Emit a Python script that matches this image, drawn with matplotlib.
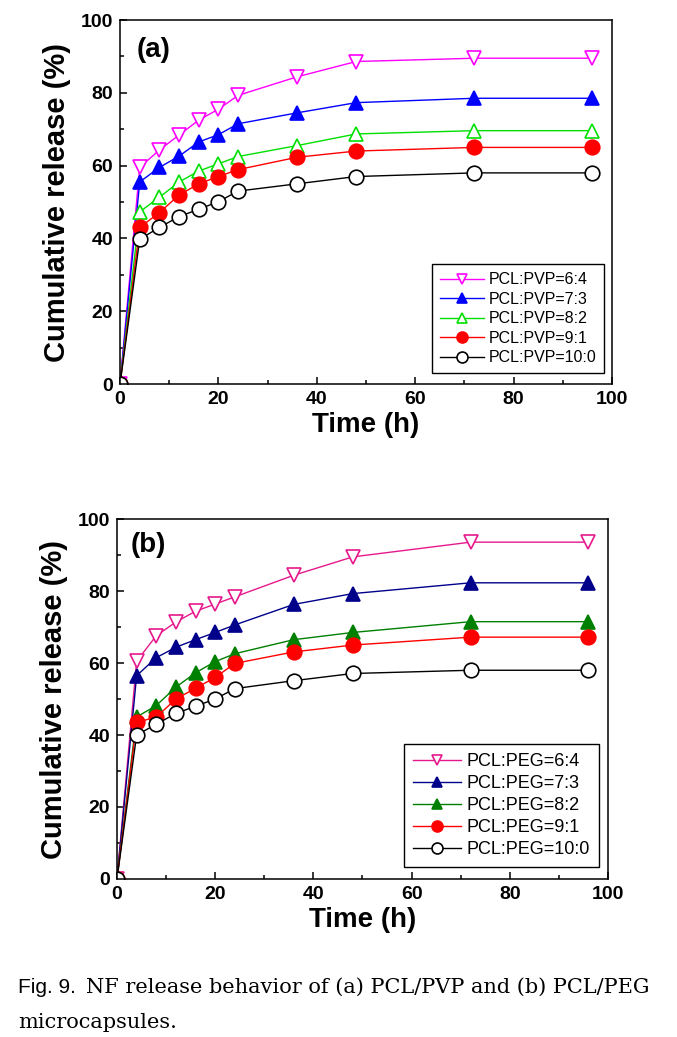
import matplotlib.pyplot as plt
from matplotlib.ticker import MultipleLocator

# sampling times (h)
time_h = [0, 4, 8, 12, 16, 20, 24, 36, 48, 72, 96]

# (a) PCL/PVP
pvp_64 = [0, 59.5, 64.3, 68.4, 72.5, 75.5, 79.3, 84.4, 88.6, 89.5, 89.5]
pvp_73 = [0, 55.5, 59.5, 62.6, 66.5, 68.5, 71.5, 74.5, 77.3, 78.5, 78.5]
pvp_82 = [0, 47.3, 51.3, 55.5, 58.5, 60.5, 62.5, 65.5, 68.7, 69.6, 69.6]
pvp_91 = [0, 43.0, 47.1, 51.9, 55.0, 57.0, 58.9, 62.3, 64.0, 65.0, 65.0]
pvp_100 = [0, 39.8, 43.0, 46.0, 48.0, 50.1, 53.0, 55.0, 57.0, 58.0, 58.0]

# (b) PCL/PEG
peg_64 = [0, 60.5, 67.6, 71.4, 74.4, 76.4, 78.4, 84.4, 89.5, 93.6, 93.6]
peg_73 = [0, 56.5, 61.5, 64.4, 66.5, 68.5, 70.6, 76.3, 79.3, 82.3, 82.3]
peg_82 = [0, 45.0, 48.2, 53.3, 57.3, 60.4, 62.6, 66.5, 68.5, 71.5, 71.5]
peg_91 = [0, 43.5, 45.0, 50.0, 53.0, 56.0, 59.9, 63.1, 65.0, 67.2, 67.2]
peg_100 = [0, 40.0, 43.0, 46.0, 48.0, 50.0, 52.9, 55.1, 57.1, 58.0, 58.0]

labels_a = ['PCL:PVP=6:4', 'PCL:PVP=7:3', 'PCL:PVP=8:2', 'PCL:PVP=9:1', 'PCL:PVP=10:0']
labels_b = ['PCL:PEG=6:4', 'PCL:PEG=7:3', 'PCL:PEG=8:2', 'PCL:PEG=9:1', 'PCL:PEG=10:0']

plt.rcParams['font.family'] = ['Liberation Sans', 'DejaVu Sans']

fig = plt.figure(figsize=(6.77, 10.37), dpi=100)
ax_a = fig.add_axes([0.1773, 0.6297, 0.7267, 0.351])
ax_b = fig.add_axes([0.1728, 0.1524, 0.7253, 0.347])


def draw_panel(ax, series, labels, colors, markers, fills, tag, legend_size, legend_anchor, tag_pos):
    for y, lab, c, m, f in zip(series, labels, colors, markers, fills):
        ax.plot(time_h, y, color=c, marker=m, markersize=10.5, linewidth=1.0,
                markerfacecolor=c if f else 'white', markeredgecolor=c,
                markeredgewidth=1.2, label=lab)
    ax.set_xlim(0, 100)
    ax.set_ylim(0, 100)
    ax.xaxis.set_major_locator(MultipleLocator(20))
    ax.xaxis.set_minor_locator(MultipleLocator(10))
    ax.yaxis.set_major_locator(MultipleLocator(20))
    ax.yaxis.set_minor_locator(MultipleLocator(10))
    ax.tick_params(which='both', direction='in', top=False, right=False, width=1.1)
    ax.tick_params(which='major', length=5, labelsize=14, pad=5)
    ax.tick_params(which='minor', length=3)
    for lbl in ax.get_xticklabels() + ax.get_yticklabels():
        lbl.set_fontweight('bold')
    for sp in ax.spines.values():
        sp.set_linewidth(1.1)
    ax.set_xlabel('Time (h)', fontsize=20, fontweight='bold', labelpad=3)
    ax.set_ylabel('Cumulative release (%)', fontsize=21, fontweight='bold', labelpad=7)
    ax.text(tag_pos[0], tag_pos[1], tag, transform=ax.transAxes, fontsize=20,
            fontweight='bold', va='center', ha='left')
    leg = ax.legend(loc='lower right', bbox_to_anchor=legend_anchor, borderaxespad=0,
                    fontsize=legend_size, fancybox=False, edgecolor='black',
                    framealpha=1, handlelength=2.7, handletextpad=0.3,
                    labelspacing=0.28, borderpad=0.5, markerscale=0.75)
    leg.get_frame().set_linewidth(1.0)


draw_panel(ax_a, [pvp_64, pvp_73, pvp_82, pvp_91, pvp_100], labels_a,
           ['#FF00FF', '#0000FF', '#00E000', '#FF0000', '#000000'],
           ['v', '^', '^', 'o', 'o'], [False, True, False, True, False],
           '(a)', 11.5, (0.984, 0.03), (0.033, 0.918))
draw_panel(ax_b, [peg_64, peg_73, peg_82, peg_91, peg_100], labels_b,
           ['#E6198C', '#00008B', '#008000', '#FF0000', '#000000'],
           ['v', '^', '^', 'o', 'o'], [False, True, True, True, False],
           '(b)', 13, (0.982, 0.033), (0.028, 0.928))

fig.text(18 / 677, 1 - 993 / 1037, 'Fig. 9.', fontsize=15, family='Liberation Sans', va='baseline')
fig.text(86 / 677, 1 - 993 / 1037, 'NF release behavior of (a) PCL/PVP and (b) PCL/PEG',
         fontsize=15, family='DejaVu Serif', va='baseline')
fig.text(18 / 677, 1 - 1028 / 1037, 'microcapsules.', fontsize=15,
         family='DejaVu Serif', va='baseline')

fig.savefig('out.png', dpi=100)
